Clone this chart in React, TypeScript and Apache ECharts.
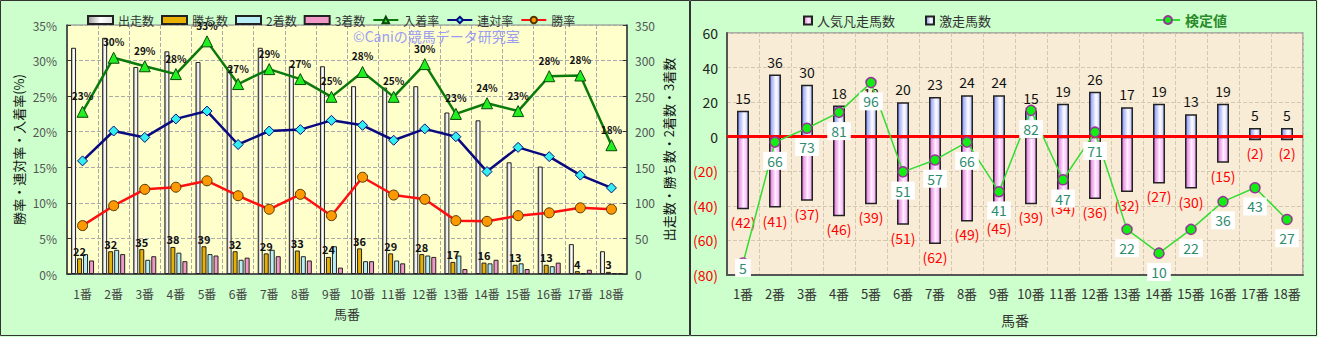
import React, { useEffect, useRef } from 'react';
import * as echarts from 'echarts';

const FONT = '"Noto Sans CJK JP", "Noto Sans", sans-serif';

const horses = ['1番', '2番', '3番', '4番', '5番', '6番', '7番', '8番', '9番', '10番', '11番', '12番', '13番', '14番', '15番', '16番', '17番', '18番'];

// left chart
const runs = [318, 332, 291, 313, 298, 291, 318, 292, 292, 264, 262, 264, 227, 216, 157, 151, 42, 32];
const wins = [22, 32, 35, 38, 39, 32, 29, 33, 24, 36, 29, 28, 17, 16, 13, 13, 4, 3];
const seconds = [28, 34, 20, 30, 28, 20, 34, 25, 39, 18, 19, 26, 26, 15, 15, 11, 1, 1];
const thirds = [19, 28, 25, 18, 26, 23, 25, 19, 9, 18, 15, 24, 7, 20, 7, 16, 6, 1];
const placeRate = [22.8, 30.4, 29.2, 28.1, 32.7, 26.7, 28.8, 27.4, 24.9, 28.4, 24.9, 29.5, 22.5, 24.0, 22.9, 27.8, 27.9, 18.1];
const quinellaRate = [15.9, 20.1, 19.2, 21.8, 22.9, 18.2, 20.1, 20.3, 21.6, 20.9, 18.8, 20.4, 19.3, 14.4, 17.8, 16.5, 13.9, 12.1];
const winRate = [6.8, 9.6, 11.9, 12.2, 13.1, 11.0, 9.1, 11.2, 8.2, 13.6, 11.1, 10.5, 7.5, 7.4, 8.2, 8.6, 9.3, 9.1];

// right chart
const surgeCount = [15, 36, 30, 18, 18, 20, 23, 24, 24, 15, 19, 26, 17, 19, 13, 19, 5, 5];
const flopCount = [42, 41, 37, 46, 39, 51, 62, 49, 45, 39, 34, 36, 32, 27, 30, 15, 2, 2];
const testValue = [5, 66, 73, 81, 96, 51, 57, 66, 41, 82, 47, 71, 22, 10, 22, 36, 43, 27];

const hGrad = (stops: [number, string][]) =>
  new echarts.graphic.LinearGradient(0, 0, 1, 0, stops.map(([offset, color]) => ({ offset, color })));

const leftOption: any = {
  animation: false,
  backgroundColor: '#CCFFCC',
  textStyle: { fontFamily: FONT },
  graphic: [
    {
      type: 'rect',
      shape: { x: 0.5, y: 0.5, width: 689, height: 335 },
      style: { fill: 'none', stroke: '#333', lineWidth: 1 },
      silent: true,
      z: 100,
    },
    {
      type: 'text',
      left: 353,
      top: 29,
      style: { text: '©Caniの競馬データ研究室', fill: '#9C9CF2', font: '14px "Noto Sans CJK JP"' },
      z: 50,
    },
  ],
  legend: {
    left: 82,
    top: 9,
    itemWidth: 25,
    itemHeight: 8,
    itemGap: 7,
    textStyle: { fontSize: 12, color: '#333', fontFamily: FONT },
    data: [
      { name: '出走数', icon: 'rect' },
      { name: '勝ち数', icon: 'rect' },
      { name: '2着数', icon: 'rect' },
      { name: '3着数', icon: 'rect' },
      { name: '入着率' },
      { name: '連対率' },
      { name: '勝率' },
    ],
  },
  grid: {
    left: 67,
    right: 64,
    top: 25,
    bottom: 63,
    show: true,
    backgroundColor: '#FFFFCC',
    borderColor: '#888',
    borderWidth: 1,
  },
  xAxis: {
    type: 'category',
    data: horses,
    axisLine: { lineStyle: { color: '#333', width: 1.5 } },
    axisTick: { show: false },
    axisLabel: { color: '#444', fontSize: 12, margin: 13, interval: 0, fontFamily: FONT },
    splitLine: { show: true, interval: 0, lineStyle: { color: '#aaa', type: 'dashed', width: 1 } },
    name: '馬番',
    nameLocation: 'middle',
    nameGap: 33,
    nameMoveOverlap: false,
    nameTextStyle: { fontSize: 13, color: '#333', fontFamily: FONT },
  },
  yAxis: [
    {
      type: 'value',
      min: 0,
      max: 35,
      interval: 5,
      position: 'left',
      axisLabel: { formatter: '{value}%', color: '#555', fontSize: 12, margin: 10, fontFamily: FONT },
      axisLine: { show: true, lineStyle: { color: '#333', width: 1.5 } },
      axisTick: { show: true, inside: true, length: 4, lineStyle: { color: '#333' } },
      splitLine: { show: true, lineStyle: { color: '#aaa', type: 'dashed', width: 1 } },
      name: '勝率・連対率・入着率(%)',
      nameLocation: 'middle',
      nameGap: 42,
      nameRotate: 90,
      nameMoveOverlap: false,
      nameTextStyle: { fontSize: 13, color: '#111', fontFamily: FONT },
    },
    {
      type: 'value',
      min: 0,
      max: 350,
      interval: 50,
      position: 'right',
      axisLabel: { color: '#555', fontSize: 12, margin: 8, fontFamily: FONT },
      axisLine: { show: true, lineStyle: { color: '#333', width: 1.5 } },
      axisTick: { show: true, inside: true, length: 4, lineStyle: { color: '#333' } },
      splitLine: { show: false },
      name: '出走数・勝ち数・2着数・3着数',
      nameLocation: 'middle',
      nameGap: 35,
      nameRotate: 90,
      nameMoveOverlap: false,
      nameTextStyle: { fontSize: 13, color: '#111', fontFamily: FONT },
    },
  ],
  series: [
    {
      name: '出走数',
      type: 'bar',
      yAxisIndex: 1,
      data: runs,
      barWidth: 5,
      barGap: '20%',
      itemStyle: {
        color: hGrad([[0, '#9a9a9a'], [0.5, '#ffffff'], [1, '#e2e2e2']]),
        borderColor: '#222',
        borderWidth: 1,
      },
    },
    {
      name: '勝ち数',
      type: 'bar',
      yAxisIndex: 1,
      data: wins,
      barWidth: 5,
      barGap: '20%',
      itemStyle: { color: '#E8B000', borderColor: '#222', borderWidth: 1 },
      label: {
        show: true,
        position: 'top',
        distance: 2,
        fontSize: 11,
        fontWeight: 'bold',
        color: '#111',
        fontFamily: FONT,
      },
    },
    {
      name: '2着数',
      type: 'bar',
      yAxisIndex: 1,
      data: seconds,
      barWidth: 5,
      barGap: '20%',
      itemStyle: { color: '#B8EEF6', borderColor: '#222', borderWidth: 1 },
    },
    {
      name: '3着数',
      type: 'bar',
      yAxisIndex: 1,
      data: thirds,
      barWidth: 5,
      barGap: '20%',
      itemStyle: { color: '#F098C8', borderColor: '#222', borderWidth: 1 },
    },
    {
      name: '入着率',
      type: 'line',
      yAxisIndex: 0,
      data: placeRate,
      symbol: 'triangle',
      symbolSize: 11,
      lineStyle: { color: '#0A7A0A', width: 2.5 },
      itemStyle: { color: '#22EE22', borderColor: '#0A4A0A', borderWidth: 1 },
      label: {
        show: true,
        position: 'top',
        distance: 5,
        formatter: (p: any) => Math.round(p.value) + '%',
        fontSize: 10,
        fontWeight: 'bold',
        color: '#111',
        fontFamily: FONT,
      },
      z: 4,
    },
    {
      name: '連対率',
      type: 'line',
      yAxisIndex: 0,
      data: quinellaRate,
      symbol: 'diamond',
      symbolSize: 10,
      lineStyle: { color: '#0A0A80', width: 2.5 },
      itemStyle: { color: '#33EEEE', borderColor: '#0A0A80', borderWidth: 1 },
      z: 4,
    },
    {
      name: '勝率',
      type: 'line',
      yAxisIndex: 0,
      data: winRate,
      symbol: 'circle',
      symbolSize: 10,
      lineStyle: { color: '#FF1010', width: 2.5 },
      itemStyle: { color: '#FF9900', borderColor: '#553300', borderWidth: 1 },
      z: 4,
    },
  ],
};

const rightOption: any = {
  animation: false,
  backgroundColor: '#CCFFCC',
  textStyle: { fontFamily: FONT },
  graphic: [
    {
      type: 'rect',
      shape: { x: 0.5, y: 0.5, width: 626, height: 335 },
      style: { fill: 'none', stroke: '#333', lineWidth: 1 },
      silent: true,
      z: 100,
    },
  ],
  legend: [
    {
      left: 108,
      top: 9,
      itemWidth: 8,
      itemHeight: 8,
      itemGap: 30,
      textStyle: { fontSize: 13, color: '#333', fontFamily: FONT },
      data: [
        { name: '人気凡走馬数', icon: 'rect' },
        { name: '激走馬数', icon: 'rect' },
      ],
    },
    {
      left: 460,
      top: 8,
      itemWidth: 24,
      itemHeight: 10,
      textStyle: { fontSize: 14, color: '#2A8A2A', fontWeight: 'bold', fontFamily: FONT },
      data: ['検定値'],
    },
  ],
  grid: {
    left: 37,
    right: 15,
    top: 33,
    bottom: 62,
    show: true,
    backgroundColor: '#F8ECD6',
    borderColor: '#999',
    borderWidth: 1.5,
  },
  xAxis: {
    type: 'category',
    data: horses,
    axisLine: { onZero: false, lineStyle: { color: '#555', width: 2 } },
    axisTick: { show: false },
    axisLabel: { color: '#333', fontSize: 13, margin: 12, interval: 0, fontFamily: FONT },
    splitLine: { show: true, interval: 0, lineStyle: { color: '#D5C8B2', type: 'dashed', width: 1 } },
    name: '馬番',
    nameLocation: 'middle',
    nameGap: 38,
    nameMoveOverlap: false,
    nameTextStyle: { fontSize: 14, color: '#333', fontFamily: FONT },
  },
  yAxis: [
    {
      type: 'value',
      min: -80,
      max: 60,
      interval: 20,
      axisLabel: {
        formatter: (v: number) => (v < 0 ? '{n|(' + -v + ')}' : '{p|' + v + '}'),
        rich: {
          n: { color: '#FF0000', fontSize: 14, fontFamily: FONT },
          p: { color: '#222', fontSize: 14, fontFamily: FONT },
        },
        margin: 9,
      },
      axisLine: { show: true, lineStyle: { color: '#555', width: 2 } },
      axisTick: { show: false },
      splitLine: { show: true, lineStyle: { color: '#D5C8B2', type: 'dashed', width: 1 } },
    },
    {
      type: 'value',
      min: -1,
      max: 121,
      show: false,
      splitLine: { show: false },
    },
  ],
  series: [
    {
      name: '人気凡走馬数',
      type: 'bar',
      stack: 'count',
      data: flopCount.map((v) => -v),
      barWidth: 12,
      itemStyle: {
        color: hGrad([[0, '#E070E0'], [0.55, '#FFF0FF'], [1, '#F0A0F0']]),
        borderColor: '#222',
        borderWidth: 1.5,
      },
      label: {
        show: true,
        position: 'bottom',
        distance: 6,
        formatter: (p: any) => '(' + -p.value + ')',
        color: '#FF0000',
        fontSize: 14,
        fontFamily: FONT,
      },
    },
    {
      name: '激走馬数',
      type: 'bar',
      stack: 'count',
      data: surgeCount,
      barWidth: 12,
      itemStyle: {
        color: hGrad([[0, '#8090F8'], [0.6, '#FFFFFF'], [1, '#B8C0FF']]),
        borderColor: '#222',
        borderWidth: 1.5,
      },
      label: {
        show: true,
        position: 'top',
        distance: 6,
        color: '#111',
        fontSize: 14,
        fontFamily: FONT,
      },
      markLine: {
        silent: true,
        symbol: 'none',
        label: { show: false },
        lineStyle: { color: '#FF0000', width: 3, type: 'solid' },
        data: [{ yAxis: 0 }],
      },
    },
    {
      name: '検定値',
      type: 'line',
      yAxisIndex: 1,
      data: testValue.map((v, i) => (i === 0 ? { value: v, label: { distance: -10 } } : v)),
      symbol: 'circle',
      symbolSize: 10,
      lineStyle: { color: '#33DD33', width: 1.5 },
      itemStyle: { color: '#11EE11', borderColor: '#993399', borderWidth: 1.5 },
      label: {
        show: true,
        position: 'bottom',
        distance: 4,
        color: '#2E8B6E',
        fontSize: 14,
        backgroundColor: '#FFFFFF',
        padding: [2, 4],
        fontFamily: FONT,
      },
      z: 5,
    },
  ],
};

export default function App() {
  const leftRef = useRef<HTMLDivElement>(null);
  const rightRef = useRef<HTMLDivElement>(null);

  useEffect(() => {
    const l = echarts.init(leftRef.current!, null, { renderer: 'svg' });
    l.setOption(leftOption);
    const r = echarts.init(rightRef.current!, null, { renderer: 'svg' });
    r.setOption(rightOption);
    return () => {
      l.dispose();
      r.dispose();
    };
  }, []);

  return (
    <div style={{ position: 'fixed', left: 0, top: 0, width: 1318, height: 337 }}>
      <div ref={leftRef} style={{ position: 'absolute', left: 0, top: 0, width: 691, height: 337 }} />
      <div ref={rightRef} style={{ position: 'absolute', left: 690, top: 0, width: 628, height: 337 }} />
    </div>
  );
}
